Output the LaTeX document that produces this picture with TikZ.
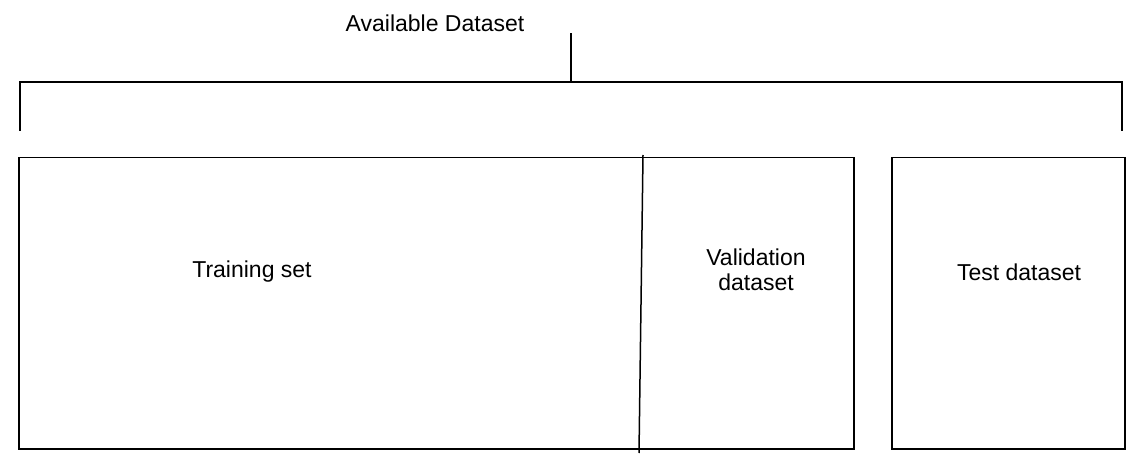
\documentclass[tikz,border=0pt]{standalone}
\usepackage{fontspec}
\setmainfont{Liberation Sans}
\begin{document}
\begin{tikzpicture}[x=0.5pt, y=-0.5pt,
    every node/.style={font=\fontsize{11.5}{12.5}\selectfont},
    setbox/.style={rectangle, draw, line width=0.75pt, anchor=north west, inner sep=0pt, minimum height=145.5pt}]

    \useasboundingbox (0,0) rectangle (1146,465);

    \draw node[setbox, minimum width=417.5pt] (split) at (18,157) {};
    \draw node[setbox, minimum width=116.5pt] (test) at (891,157) {};

    \draw node (avail) at (435,23) {Available Dataset};
    \draw node (train) at (252,272) {Training set};
    \draw node[align=center] (valid) at (756,270) {Validation\\dataset};
    \draw node (testlbl) at (1019,272) {Test dataset};

    % split between training and validation
    \coordinate (dtop) at (643,155);
    \coordinate (dbot) at (639,453);
    \draw[line width=0.75pt] (dtop) -- (dbot);

    % bracket over the whole dataset
    \coordinate (bl) at (20,131);
    \coordinate (br) at (1122,131);
    \coordinate (mid) at (571,82);
    \coordinate (stem) at (571,33);
    \draw[line width=1.2pt] (bl) |- (mid) -| (br);
    \draw[line width=1.2pt] (mid) -- (stem);
    \end{tikzpicture}
\end{document}
